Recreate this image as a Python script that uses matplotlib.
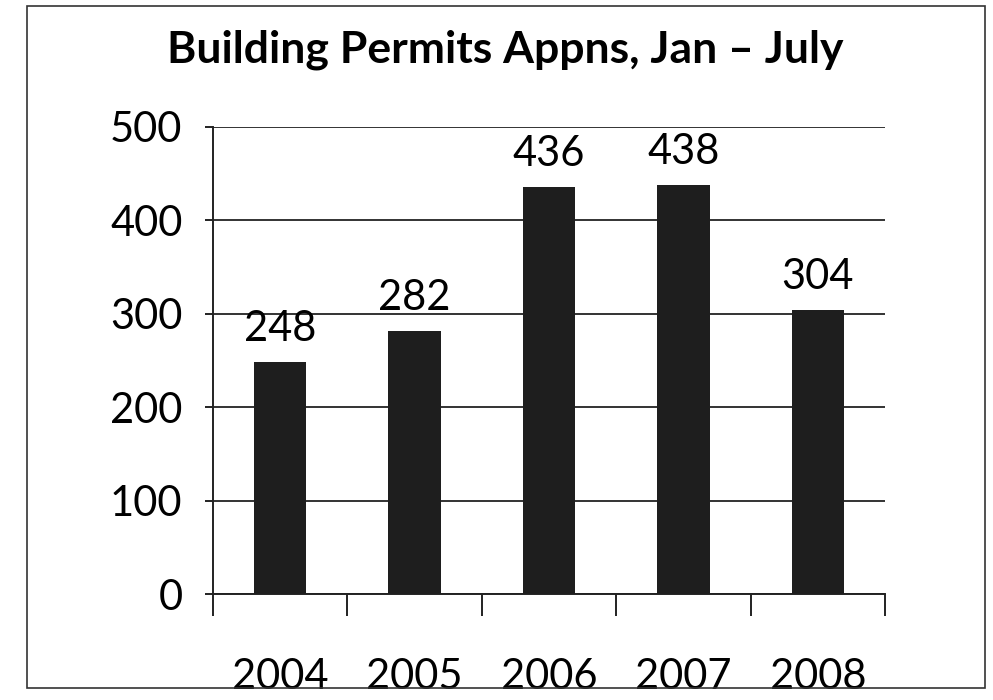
import matplotlib
matplotlib.use('Agg')
from matplotlib import pyplot as plt
from matplotlib.patches import Rectangle

years = ['2004', '2005', '2006', '2007', '2008']
permits = [248, 282, 436, 438, 304]
yticks = [0, 100, 200, 300, 400, 500]

plt.rcParams['font.family'] = ['Lato', 'DejaVu Sans']

fig = plt.figure(figsize=(9.93, 7.0), dpi=100)
ax = fig.add_axes([213 / 993, 1 - 594 / 700, 672 / 993, 467 / 700])

x = range(len(years))
ax.bar(x, permits, width=0.39, color='#1e1e1e', zorder=3)
for i, v in enumerate(permits):
    ax.annotate(str(v), (i, v), xytext=(0, 10), textcoords='offset points',
                ha='center', va='bottom', fontsize=30, color='black')

ax.set_xlim(-0.5, len(years) - 0.5)
ax.set_ylim(0, 500)
ax.set_yticks(yticks)
ax.set_yticklabels([str(t) for t in yticks], fontsize=30)
ax.yaxis.grid(True, color='#333333', linewidth=1.4, zorder=0)

# category boundary ticks on the x axis, labels in the middle
ax.set_xticks([i - 0.5 for i in range(len(years) + 1)], minor=False)
ax.set_xticklabels([])
ax.set_xticks(list(x), minor=True)
ax.set_xticklabels(years, minor=True, fontsize=30)
ax.tick_params(axis='x', which='major', length=16, width=1.4, color='#222222', direction='out')
ax.tick_params(axis='x', which='minor', length=0, pad=46)
ax.tick_params(axis='y', length=6, width=1.4, color='#222222', pad=16)

for s in ['top', 'right']:
    ax.spines[s].set_visible(False)
ax.spines['left'].set_linewidth(1.4)
ax.spines['bottom'].set_linewidth(1.4)
ax.spines['left'].set_color('#222222')
ax.spines['bottom'].set_color('#222222')

fig.text(505 / 993, 1 - 50 / 700, 'Building Permits Appns, Jan \u2013 July',
         ha='center', va='center', fontsize=32, fontweight='bold')

# outer frame of the chart area
fig.patches.append(Rectangle((27 / 993, 1 - 688 / 700), 958 / 993, 682 / 700,
                             transform=fig.transFigure, fill=False,
                             edgecolor='#333333', linewidth=1.2))

fig.savefig('out.png', dpi=100)
